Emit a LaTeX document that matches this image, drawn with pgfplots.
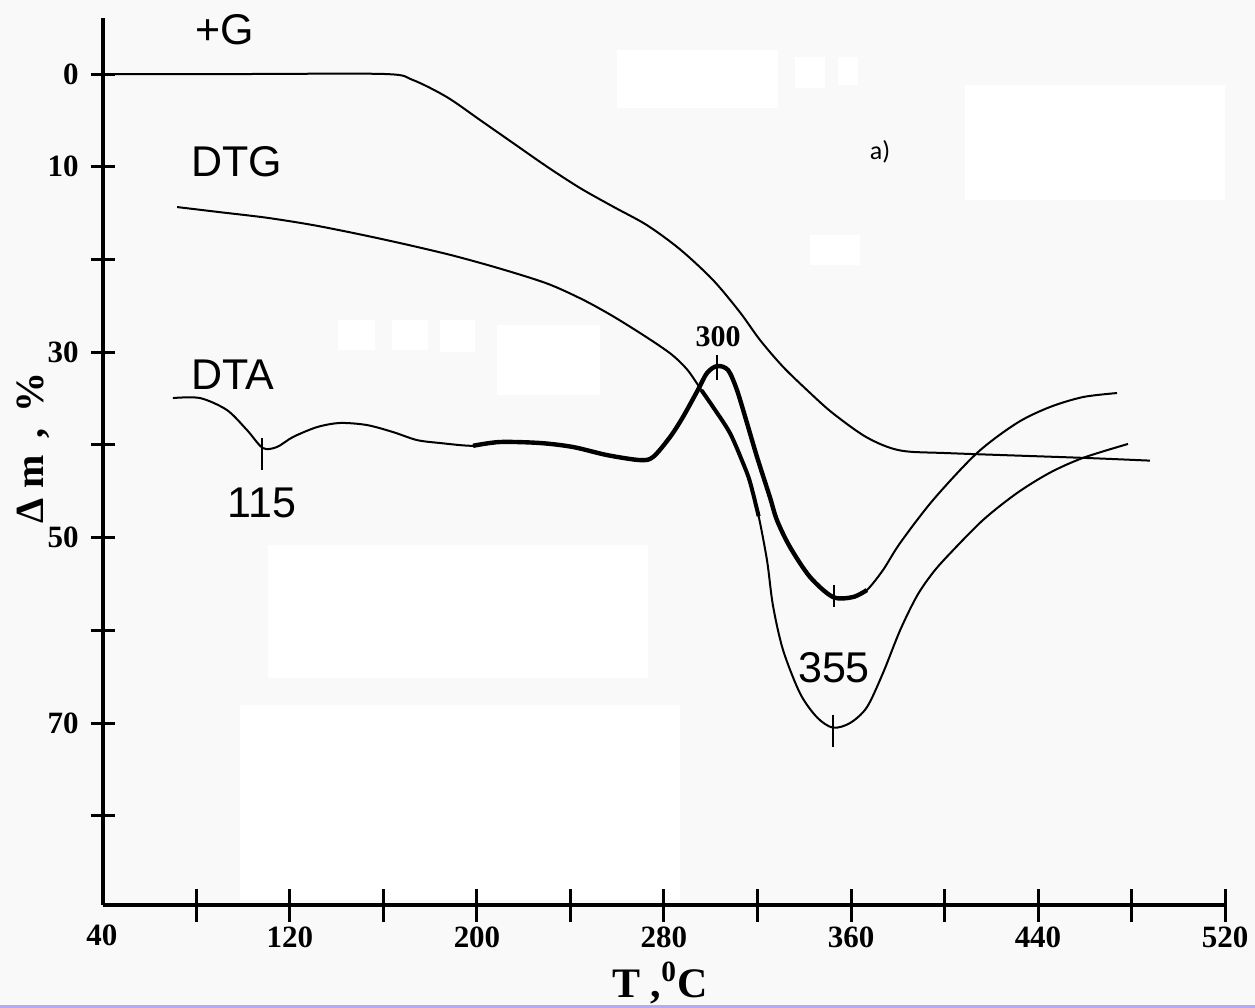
\documentclass[border=0pt]{standalone}
\usepackage{fontspec}
\setmainfont{Liberation Serif}
\newfontfamily\arial{Liberation Sans}
\newfontfamily\calibri{Carlito}
\usepackage{pgfplots}
\pgfplotsset{compat=1.18}
\definecolor{bg}{RGB}{249,249,249}
\definecolor{strip}{RGB}{180,170,245}
\pgfdeclarelayer{bglayer}
\pgfsetlayers{bglayer,main}
\begin{document}
\begin{tikzpicture}
\begin{axis}[
  scale only axis, width=561pt, height=443.5pt,
  xmin=40, xmax=520, ymin=-6.04, ymax=89.63, y dir=reverse,
  axis x line*=bottom, axis y line*=left,
  axis line style={line width=2pt, -},
  clip=false,
  /pgf/number format/assume math mode=true,
  tick label style={font=\fontsize{15.5}{16}\selectfont\bfseries},
  xtick={80,120,...,520},
  xticklabels={,120,,200,,280,,360,,440,,520},
  extra x ticks={40}, extra x tick labels={40},
  extra x tick style={xtick style={/pgfplots/major tick length=0pt}, xticklabel style={yshift=1pt, xshift=-0.5pt}},
  ytick={0,10,...,80},
  yticklabels={0,10,,30,,50,,70,},
  tick align=center,
  xtick style={/pgfplots/major tick length=16.5pt, line width=1.5pt, black},
  ytick style={/pgfplots/major tick length=12pt, line width=1.5pt, black},
  xticklabel style={yshift=-5.5pt},
  yticklabel style={xshift=-6.5pt},
]
\coordinate (TL) at (axis cs:-4.064,-7.982);
% TG (+G)
\addplot[black, line width=1pt, smooth, tension=0.5] coordinates {
(40,0) (100,0) (160.6,0) (172.6,0.65) (187.2,2.5) (201.3,4.96) (215.4,7.44)
(230.0,10.0) (244.1,12.3) (258.2,14.3) (272.7,16.3) (286.8,18.9) (300.9,22.2)
(312.5,25.7) (321.1,28.7) (331.0,31.6) (342.5,34.4) (352.3,36.6) (366.8,39.2)
(381.0,40.6) (402.4,40.9) (459.3,41.4) (487.9,41.7)};
% DTG
\addplot[black, line width=1pt, smooth, tension=0.5] coordinates {
(71.7,14.35) (90,14.9) (110,15.5) (130,16.3) (150,17.3) (170,18.4) (190,19.6)
(210,21.0) (230,22.6) (245,24.3) (258,26.1) (272,28.3) (283,30.2) (290,31.9)
(296,34.1) (301.0,35.92) (308.2,38.72) (313.8,41.96) (316.8,44.0)
(320.5,47.7) (324.1,52.5) (326.6,57.3) (330.9,62.1) (338.2,66.8) (345.5,69.4)
(352.3,70.5) (359.6,70.0) (366.8,68.3) (373.7,64.6) (381.0,60.0) (388.2,56.3)
(395.0,53.8) (402.4,51.7) (416.5,48.1) (431.0,45.2) (445.1,43.0) (459.3,41.4) (478.5,39.9)};
\addplot[black, line width=2pt, smooth, tension=0.5] coordinates {
(296,34.1) (301.0,35.92) (308.2,38.72) (313.8,41.96) (316.8,44.0) (320.5,47.7)};
% DTA
\addplot[black, line width=1pt, smooth, tension=0.5] coordinates {
(69.9,34.95) (81.5,34.95) (93.0,36.24) (101.6,38.40) (108.4,40.34) (114.4,40.23)
(121.3,39.15) (131.6,38.08) (141.4,37.64) (152.9,37.86) (164.1,38.62) (174.3,39.48)
(184.2,39.80) (198.3,40.10) (209.8,39.69) (227.0,39.80) (241.1,40.23) (255.6,41.10)
(269.7,41.64) (275.3,41.31) (282.6,39.15) (288.1,37.0) (294.5,34.08) (298.4,32.25)
(302.7,31.50) (307.4,31.93) (311.2,34.08) (315.5,37.64) (319.8,41.31) (325.3,45.63)
(328.3,48.11) (333.9,51.02) (342.5,54.26) (352.3,56.41) (360.9,56.41) (366.8,55.66)
(373.7,53.50) (381.0,50.59) (395.1,45.95) (413.9,40.88) (431.0,37.64) (445.1,35.92)
(459.3,34.84) (473.8,34.41)};
\addplot[black, line width=2.2pt, smooth, tension=0.5] coordinates {
(198.3,40.10) (209.8,39.69) (227.0,39.80) (241.1,40.23) (255.6,41.10)
(269.7,41.64) (275.3,41.31) (282.6,39.15) (288.1,37.0) (294.5,34.08) (298.4,32.25)
(302.7,31.50) (307.4,31.93) (311.2,34.08) (315.5,37.64) (319.8,41.31) (325.3,45.63)
(328.3,48.11) (333.9,51.02) (342.5,54.26) (352.3,56.41) (360.9,56.41) (366.8,55.66)};
% peak markers
\draw[line width=1pt] (axis cs:108.0,39.3) -- (axis cs:108.0,42.7);
\draw[line width=1pt] (axis cs:302.7,30.3) -- (axis cs:302.7,33.0);
\draw[line width=1pt] (axis cs:352.7,55.1) -- (axis cs:352.7,57.5);
\draw[line width=1pt] (axis cs:352.3,69.1) -- (axis cs:352.3,72.6);
\end{axis}
\begin{pgfonlayer}{bglayer}
\begin{scope}[shift={(TL)}, x=0.5pt, y=-0.5pt]
\fill[bg] (0,0) rectangle (1255,1008);
\fill[white] (617,50) rectangle (778,108);
\fill[white] (795,57) rectangle (825,88);
\fill[white] (838,57) rectangle (858,85);
\fill[white] (268,545) rectangle (648,678);
\fill[white] (497,325) rectangle (600,395);
\fill[white] (338,320) rectangle (375,350);
\fill[white] (392,320) rectangle (428,350);
\fill[white] (440,320) rectangle (475,352);
\fill[white] (810,235) rectangle (860,265);
\fill[white] (965,85) rectangle (1225,200);
\fill[white] (240,705) rectangle (680,900);
\fill[strip] (0,1005) rectangle (1255,1008);
\end{scope}
\end{pgfonlayer}
\begin{scope}[shift={(TL)}, x=0.5pt, y=-0.5pt]
\node[font=\arial\fontsize{21.5}{22}\selectfont] at (225,30) {+G};
\node[font=\arial\fontsize{21.5}{22}\selectfont] at (237,162) {DTG};
\node[font=\arial\fontsize{21.5}{22}\selectfont] at (233,375) {DTA};
\node[font=\arial\fontsize{21.5}{22}\selectfont] at (262,503) {115};
\node[font=\arial\fontsize{21.5}{22}\selectfont] at (834,668) {355};
\node[font=\fontsize{15}{16}\selectfont\bfseries] at (718,337) {300};
\node[font=\calibri\fontsize{13}{14}\selectfont] at (880,152) {a)};
\node[font=\fontsize{20}{21}\selectfont\bfseries, rotate=90] at (33,448) {Δ m\, ,\, \%};
\node[font=\fontsize{21}{22}\selectfont\bfseries] at (660,983) {T ,\textsuperscript{0}C};
\pgfresetboundingbox
\useasboundingbox (0,0) rectangle (1255,1008);
\end{scope}
\end{tikzpicture}
\end{document}
